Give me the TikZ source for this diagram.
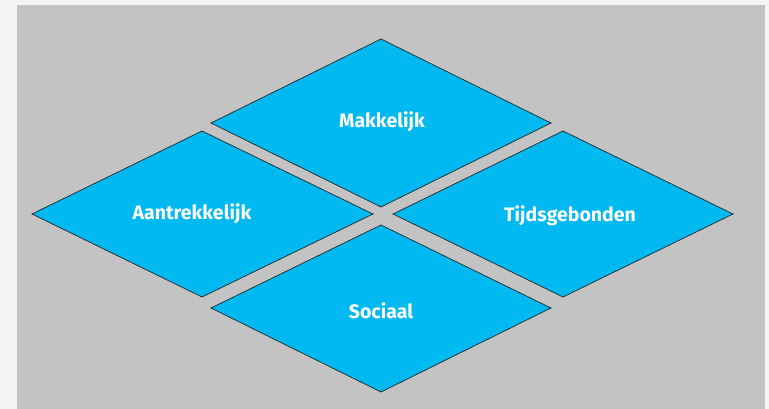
\documentclass[tikz,border=0pt]{standalone}
\usepackage{fontspec}
\setmainfont{Fira Sans}
\definecolor{bgout}{HTML}{F5F5F5}
\definecolor{bggray}{HTML}{C3C3C3}
\definecolor{tile}{HTML}{00B9F0}
\begin{document}
\begin{tikzpicture}[x=1pt,y=-1pt,
  tileshape/.style={fill=tile,draw=black!85,line width=0.7pt,line join=miter},
  lbl/.style={text=white,font=\fontsize{19.5}{22}\selectfont\bfseries,inner sep=0pt}]
\useasboundingbox (0,0) rectangle (769,409);
\fill[bgout] (0,0) rectangle (769,409);
\fill[bggray] (17,5) rectangle (765,409);
% tiles
\draw[tileshape] (381,39) -- (551,123) -- (381,207) -- (211,123) -- cycle;
\draw[tileshape] (202,131) -- (373,214) -- (202,297) -- (32,214) -- cycle;
\draw[tileshape] (563,131) -- (733,214) -- (563,297) -- (393,214) -- cycle;
\draw[tileshape] (381,225) -- (551,308) -- (381,392) -- (211,308) -- cycle;
% labels
\node[lbl] (mak) at (382,122) {Makkelijk};
\node[lbl] (aan) at (192,214) {Aantrekkelijk};
\node[lbl] (tij) at (570,216) {Tijdsgebonden};
\node[lbl] (soc) at (381,311) {Sociaal};
\end{tikzpicture}
\end{document}
